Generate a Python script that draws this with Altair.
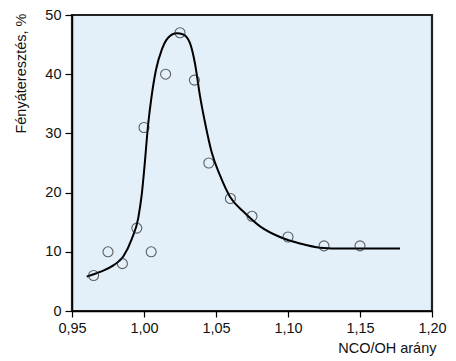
import altair as alt
import pandas as pd

# measured points
pt_x = [0.965, 0.975, 0.985, 0.995, 1.000, 1.005, 1.015, 1.025, 1.035, 1.045, 1.060, 1.075, 1.100, 1.125, 1.150]
pt_y = [6, 10, 8, 14, 31, 10, 40, 47, 39, 25, 19, 16, 12.5, 11, 11]

# fitted curve
cv_x = [0.9602, 0.9694, 0.9787, 0.9856, 0.9914, 0.9960, 0.9984, 1.0000, 1.0030, 1.0053, 1.0083,
        1.0123, 1.0169, 1.0227, 1.0273, 1.0320, 1.0354, 1.0389, 1.0424, 1.0470, 1.0528, 1.0597,
        1.0690, 1.0806, 1.0944, 1.1083, 1.1222, 1.1384, 1.1778]
cv_y = [5.8, 6.6, 7.7, 9.2, 12.1, 15.7, 19.6, 23.5, 31.8, 36.3, 40.7,
        44.1, 46.2, 46.9, 46.7, 45.2, 41.8, 36.3, 31.8, 26.8, 22.9, 19.3,
        16.8, 14.3, 12.5, 11.4, 10.7, 10.55, 10.55]

x_ticks = [0.95, 0.975, 1.0, 1.025, 1.05, 1.075, 1.10, 1.125, 1.15, 1.175, 1.20]
y_ticks = [0, 5, 10, 15, 20, 25, 30, 35, 40, 45, 50]

pts = pd.DataFrame({"x": pt_x, "y": pt_y})
curve = pd.DataFrame({"x": cv_x, "y": cv_y})

FONT = "Liberation Sans"

xscale = alt.Scale(domain=[0.95, 1.20], nice=False, zero=False)
yscale = alt.Scale(domain=[0, 50], nice=False)

x_major = "abs(datum.value*20 - round(datum.value*20)) < 0.001"
y_major = "datum.value % 10 == 0"

xaxis = alt.Axis(
    values=x_ticks,
    labelExpr=f"{x_major} ? replace(format(datum.value, '.2f'), '.', ',') : ''",
    tickSize={"condition": {"test": x_major, "value": 6}, "value": 3.5},
    labelPadding=4,
    title="NCO/OH arány",
    titleAnchor="end",
    titleAlign="right",
    titlePadding=7,
    titleX=364,
    grid=False,
    domainColor="black", tickColor="black", labelColor="#111111", titleColor="#111111",
    domainWidth=1.3, tickWidth=1.2,
    labelFont=FONT, titleFont=FONT, labelFontSize=14.5, titleFontSize=14.5, titleFontWeight="normal",
    labelFlush=False,
)
yaxis = alt.Axis(
    values=y_ticks,
    labelExpr=f"{y_major} ? format(datum.value, 'd') : ''",
    tickSize={"condition": {"test": y_major, "value": 7}, "value": 4},
    labelPadding=4,
    title="Fényáteresztés, %",
    titleAnchor="end",
    titleX=-44,
    titleY=-2,
    grid=False,
    domainColor="black", tickColor="black", labelColor="#111111", titleColor="#111111",
    domainWidth=1.3, tickWidth=1.2,
    labelFont=FONT, titleFont=FONT, labelFontSize=14.5, titleFontSize=14.5, titleFontWeight="normal",
    labelFlush=False,
)

line = alt.Chart(curve).mark_line(color="black", strokeWidth=2, interpolate="monotone").encode(
    x=alt.X("x:Q", scale=xscale, axis=xaxis),
    y=alt.Y("y:Q", scale=yscale, axis=yaxis),
    order="x:Q",
)
points = alt.Chart(pts).mark_point(shape="circle", filled=False, color="#222222", size=100, strokeWidth=1.1).encode(
    x=alt.X("x:Q", scale=xscale),
    y=alt.Y("y:Q", scale=yscale),
)

chart = (line + points).properties(
    width=360, height=296,
    autosize=alt.AutoSizeParams(type="none"),
    padding={"left": 64, "top": 7, "right": 16, "bottom": 50},
).configure(background="white").configure_view(
    fill="#e3f0fa", stroke="#222222", strokeWidth=2.2
)

chart.save("out.html", embed_options={"renderer": "svg", "actions": False})
